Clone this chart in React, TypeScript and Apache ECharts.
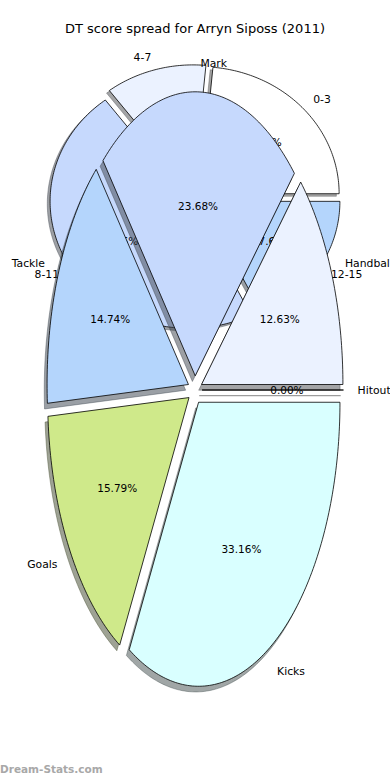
import React, { useEffect, useRef } from "react";
import * as echarts from "echarts";

const TITLE = "DT score spread for Arryn Siposs (2011)";
const WATERMARK = "Dream-Stats.com";

// Score spread pie (drawn behind)
const spreadLabels = ["0-3", "4-7", "8-11", "12-15"];
const spreadCounts = [4, 2, 8, 3];
const spreadColors = ["#ffffff", "#ebf2ff", "#c6d9fd", "#b4d5fc"];

// Stat breakdown pie (drawn in front)
const statLabels = ["Handball", "Mark", "Tackle", "Goals", "Kicks", "Hitout"];
const statCounts = [24, 45, 28, 30, 63, 0];
const statColors = ["#ebf2ff", "#c6d9fd", "#b4d5fc", "#cfe98a", "#d9ffff", "#ffffff"];

type Geom = { cx: number; cy: number; rx: number; ry: number; explode: number };

const SCORE_GEOM: Geom = { cx: 195, cy: 198, rx: 139, ry: 127, explode: 0.05 };
const STAT_GEOM: Geom = { cx: 195, cy: 390, rx: 141.4, ry: 284, explode: 0.05 };

const FONT = "'DejaVu Sans', sans-serif";

function shadowOf(hex: string): string {
  const h = hex.replace("#", "");
  const r = parseInt(h.slice(0, 2), 16);
  const g = parseInt(h.slice(2, 4), 16);
  const b = parseInt(h.slice(4, 6), 16);
  return `rgba(${Math.round(r * 0.3)},${Math.round(g * 0.3)},${Math.round(b * 0.3)},0.5)`;
}

function makeLayer(
  name: string,
  labels: string[],
  values: number[],
  colors: string[],
  geom: Geom,
  layer: "shadow" | "wedge" | "text",
  z: number
) {
  const total = values.reduce((a, b) => a + b, 0);
  const starts: number[] = [];
  let acc = 0;
  values.forEach((v) => {
    starts.push(acc);
    acc += v;
  });
  return {
    type: "custom",
    name: name + "-" + layer,
    coordinateSystem: "none",
    z,
    silent: true,
    data: values.map((v, i) => [v, i]),
    renderItem: (params: any, api: any) => {
      const i = params.dataIndex;
      const v = api.value(0);
      const t1 = (starts[i] / total) * 2 * Math.PI;
      const t2 = ((starts[i] + v) / total) * 2 * Math.PI;
      const tm = (t1 + t2) / 2;
      const ex = geom.cx + geom.explode * geom.rx * Math.cos(tm);
      const ey = geom.cy - geom.explode * geom.ry * Math.sin(tm);
      if (layer === "text") {
        const lx = ex + 1.1 * geom.rx * Math.cos(tm);
        const ly = ey - 1.1 * geom.ry * Math.sin(tm);
        const px = ex + 0.6 * geom.rx * Math.cos(tm);
        const py = ey - 0.6 * geom.ry * Math.sin(tm);
        return {
          type: "group",
          children: [
            {
              type: "text",
              x: lx,
              y: ly,
              style: {
                text: labels[i],
                align: lx > geom.cx ? "left" : "right",
                verticalAlign: "middle",
                fontSize: 10.8,
                fontFamily: FONT,
                fill: "#000",
              },
            },
            {
              type: "text",
              x: px,
              y: py,
              style: {
                text: ((v / total) * 100).toFixed(2) + "%",
                align: "center",
                verticalAlign: "middle",
                fontSize: 10.5,
                fontFamily: FONT,
                fill: "#000",
              },
            },
          ],
        };
      }
      const ox = layer === "shadow" ? -0.02 * geom.rx : 0;
      const oy = layer === "shadow" ? 0.02 * geom.ry : 0;
      const pts: number[][] = [[ex + ox, ey + oy]];
      const n = Math.max(1, Math.ceil((t2 - t1) / (Math.PI / 180)));
      for (let k = 0; k <= n; k++) {
        const th = t1 + ((t2 - t1) * k) / n;
        pts.push([ex + ox + geom.rx * Math.cos(th), ey + oy - geom.ry * Math.sin(th)]);
      }
      const style =
        layer === "shadow"
          ? { fill: shadowOf(colors[i]), stroke: shadowOf(colors[i]), lineWidth: 0.8 }
          : { fill: colors[i], stroke: "#000", lineWidth: 0.8 };
      return { type: "polygon", shape: { points: pts }, style };
    },
  };
}

export default function App() {
  const ref = useRef<HTMLDivElement>(null);
  useEffect(() => {
    if (!ref.current) return;
    const chart = echarts.init(ref.current, undefined, { renderer: "svg" });
    chart.setOption({
      animation: false,
      backgroundColor: "#ffffff",
      title: {
        text: TITLE,
        left: "center",
        top: 22,
        padding: 0,
        textStyle: { fontSize: 13, fontWeight: "normal", fontFamily: FONT, color: "#000" },
      },
      graphic: [
        {
          type: "text",
          left: 0,
          top: 763,
          style: {
            text: WATERMARK,
            fontSize: 10.5,
            fontWeight: "bold",
            fontFamily: FONT,
            fill: "#a8a8a8",
          },
        },
      ],
      series: [
        makeLayer("spread", spreadLabels, spreadCounts, spreadColors, SCORE_GEOM, "shadow", 1),
        makeLayer("spread", spreadLabels, spreadCounts, spreadColors, SCORE_GEOM, "wedge", 2),
        makeLayer("spread", spreadLabels, spreadCounts, spreadColors, SCORE_GEOM, "text", 3),
        makeLayer("stat", statLabels, statCounts, statColors, STAT_GEOM, "shadow", 4),
        makeLayer("stat", statLabels, statCounts, statColors, STAT_GEOM, "wedge", 5),
        makeLayer("stat", statLabels, statCounts, statColors, STAT_GEOM, "text", 6),
      ],
    });
    return () => chart.dispose();
  }, []);
  return (
    <div
      ref={ref}
      style={{ position: "fixed", left: 0, top: 0, width: 390, height: 780 }}
    />
  );
}
